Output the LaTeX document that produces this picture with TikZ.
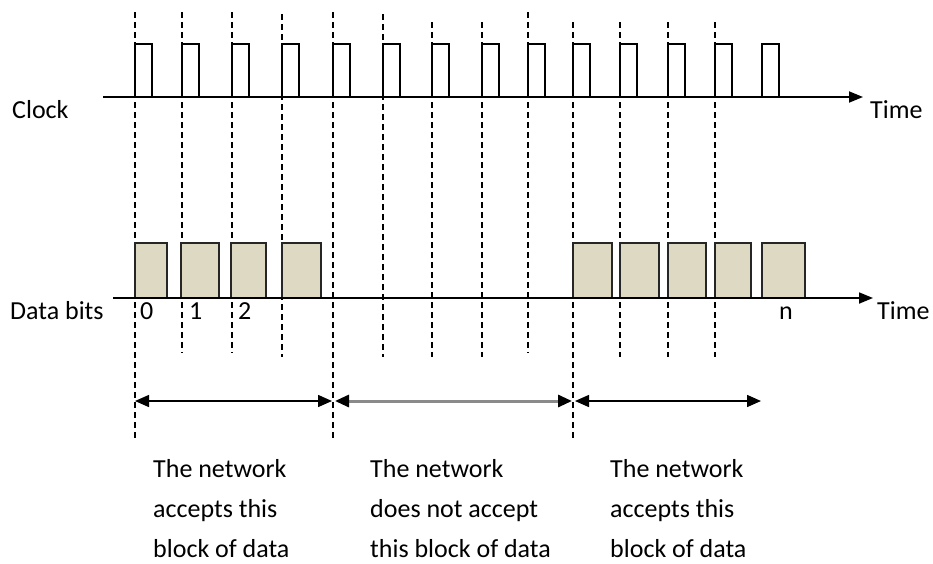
\documentclass[tikz,border=0pt]{standalone}
\usepackage{fontspec}
\setmainfont{Carlito}
\usetikzlibrary{arrows.meta, positioning}
\definecolor{bitFill}{HTML}{DDD9C3}
\definecolor{spanGrey}{HTML}{8A8A8A}
\tikzset{
  % one unit is one pixel of the finished image
  every picture/.append style = {>={Triangle[length=14pt, width=11pt]}},
  axisline/.style  = {->, line width=1.8pt, black},
  pulse/.style     = {line width=1.7pt, black, line join=miter},
  slotline/.style  = {line width=1.2pt, black, dash pattern=on 6pt off 4pt},
  bitbox/.style    = {draw=black!85, line width=1.5pt, fill=bitFill},
  span/.style      = {{Triangle[length=14pt, width=12pt, color=black]}-{Triangle[length=14pt, width=12pt, color=black]},
                      line width=1.5pt, black},
  lbl/.style       = {font=\fontsize{26}{40}\selectfont, inner sep=0pt},
}

\begin{document}
\begin{tikzpicture}[x=1pt, y=-1pt]
  \useasboundingbox (0,0) rectangle (933,563);
  % time slots: dashed marks at each clock edge (x / top / bottom)
  \foreach \x/\top/\bot in {135/12/440, 182/12/353, 232/12/353, 282/14/357,
                            333/12/440, 383/14/357, 432/22/357, 482/22/357,
                            528/12/353, 573/22/440, 620/22/357, 668/22/357,
                            715/22/357}
    \draw[slotline] (\x,\top) -- (\x,\bot);
  % clock line with its pulses
  \coordinate (clkstart) at (103,97);
  \coordinate (clkend)   at (863,97);
  \draw[axisline] (clkstart) -- (clkend);
  \foreach \x in {135,182,232,282,333,383,432,482,528,573,620,668,715,762}
    \draw[pulse] (\x,97) |- (\x+17,44) -- (\x+17,97);
  \node[lbl, anchor=base west] (clock) at (12,118) {Clock};
  \node[lbl, anchor=base west] (time1) at (870,118) {Time};
  % data line and the bits sent on it
  \foreach \l/\r in {135/167, 181/219, 231/266, 282/321,
                     573/612, 620/659, 668/706, 715/751, 762/805}
    \draw[bitbox] (\l,298) rectangle (\r,243);
  \coordinate (datastart) at (113,298);
  \coordinate (dataend)   at (873,298);
  \draw[axisline] (datastart) -- (dataend);
  \node[lbl, anchor=base west] (databits) at (10,319) {Data bits};
  \node[lbl, anchor=base west] (time2) at (877,319) {Time};
  \node[lbl, anchor=base west] (bit0) at (140,319) {0};
  \node[lbl, anchor=base west] (bit1) at (189,319) {1};
  \node[lbl, anchor=base west] (bit2) at (238,319) {2};
  \node[lbl, anchor=base west] (bitn) at (779,319) {n};
  % blocks accepted or refused
  \coordinate (acc1a) at (135,401);
  \coordinate (acc1b) at (332,401);
  \coordinate (rejA)  at (335,401);
  \coordinate (rejB)  at (572,401);
  \coordinate (acc2a) at (575,401);
  \coordinate (acc2b) at (761,401);
  \draw[span] (acc1a) -- (acc1b);
  \draw[span, spanGrey, line width=3pt] (rejA) -- (rejB);
  \draw[span] (acc2a) -- (acc2b);
  \node[lbl, align=left, anchor=north west] (txtacc1) at (153,459)
    {The network\\accepts this\\block of data};
  \node[lbl, align=left, anchor=north west] (txtrej) at (370,459)
    {The network\\does not accept\\this block of data};
  \node[lbl, align=left, anchor=north west] (txtacc2) at (610,459)
    {The network\\accepts this\\block of data};
\end{tikzpicture}
\end{document}
